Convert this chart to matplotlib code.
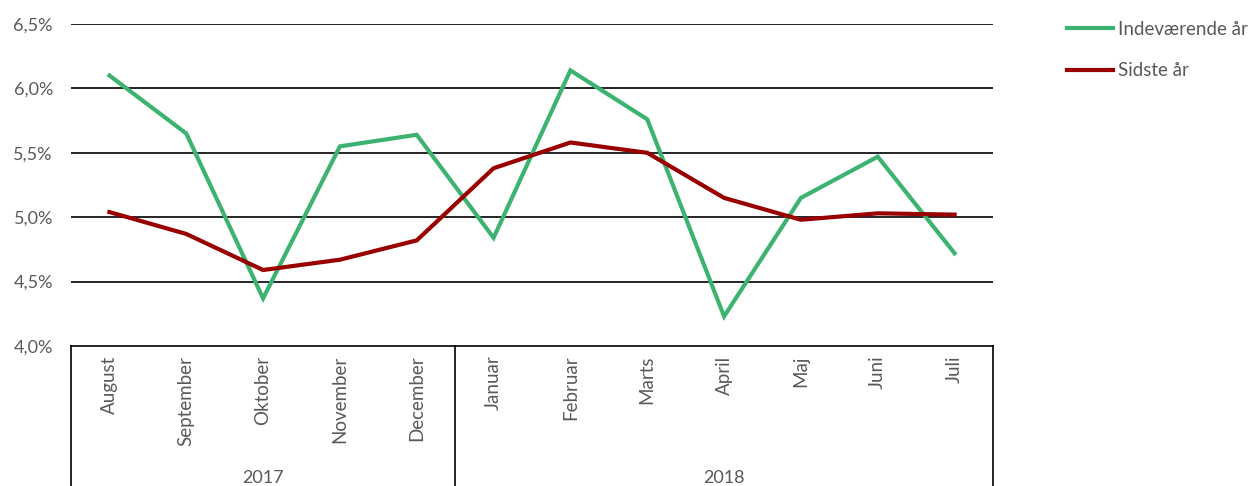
import matplotlib
matplotlib.use("Agg")
import matplotlib.pyplot as plt
from matplotlib.lines import Line2D

months = ["August", "September", "Oktober", "November", "December",
          "Januar", "Februar", "Marts", "April", "Maj", "Juni", "Juli"]
years = ["2017", "2018"]
year_counts = [5, 7]
current = [6.10, 5.65, 4.37, 5.55, 5.64, 4.84, 6.14, 5.76, 4.23, 5.15, 5.47, 4.72]
previous = [5.04, 4.87, 4.59, 4.67, 4.82, 5.38, 5.58, 5.50, 5.15, 4.98, 5.03, 5.02]
yticks = [4.0, 4.5, 5.0, 5.5, 6.0, 6.5]
series_names = ["Indeværende år", "Sidste år"]

FONT = ["Lato", "DejaVu Sans"]
GRAY = "#595959"
GREEN = "#3CB371"
RED = "#990000"

fig = plt.figure(figsize=(12.5, 4.86), dpi=100)
W, H = 1250, 486
ax = fig.add_axes([71 / W, (H - 346) / H, (993 - 71) / W, (346 - 24) / H])

x = list(range(len(months)))
l1, = ax.plot(x, current, color=GREEN, lw=3.0, solid_joinstyle="miter", zorder=3)
l2, = ax.plot(x, previous, color=RED, lw=3.0, solid_joinstyle="miter", zorder=3)

ax.set_xlim(-0.5, len(months) - 0.5)
ax.set_ylim(4.0, 6.5)
ax.set_yticks(yticks)
ax.set_yticklabels([f"{v:.1f}%".replace(".", ",") for v in yticks],
                   fontsize=13, color=GRAY, family=FONT)
ax.tick_params(axis="y", length=0, pad=13)
for v in yticks[1:]:
    ax.axhline(v, color="black", lw=1.2, zorder=1)
for s in ["top", "left", "right"]:
    ax.spines[s].set_visible(False)
ax.spines["bottom"].set_color("black")
ax.spines["bottom"].set_linewidth(1.2)

ax.set_xticks(x)
ax.set_xticklabels([])
ax.tick_params(axis="x", length=0)

trans = ax.get_xaxis_transform()
for i, m in enumerate(months):
    ax.text(i, -0.03, m, rotation=90, ha="center", va="top", transform=trans,
            fontsize=13.5, color=GRAY, family=FONT, clip_on=False)

# category separators
bottom_axes = -(486 - 346) / (346 - 24)
bounds = [-0.5]
for c in year_counts:
    bounds.append(bounds[-1] + c)
for b in bounds:
    ax.add_line(Line2D([b, b], [0, bottom_axes], transform=trans, color="black",
                       lw=1.2, clip_on=False))
for j, yr in enumerate(years):
    cx = (bounds[j] + bounds[j + 1]) / 2
    ax.text(cx, -(478 - 346) / (346 - 24), yr, ha="center", va="center",
            transform=trans, fontsize=13, color=GRAY, family=FONT, clip_on=False)

leg = fig.legend([l1, l2], series_names, loc="upper left",
                 bbox_to_anchor=(1067 / W, 1 - 21 / H), frameon=False,
                 borderpad=0, borderaxespad=0,
                 prop={"family": FONT, "size": 13.5}, labelcolor=GRAY,
                 handlelength=2.45, handletextpad=0.25, labelspacing=1.3)

fig.savefig("out.png", dpi=100)
